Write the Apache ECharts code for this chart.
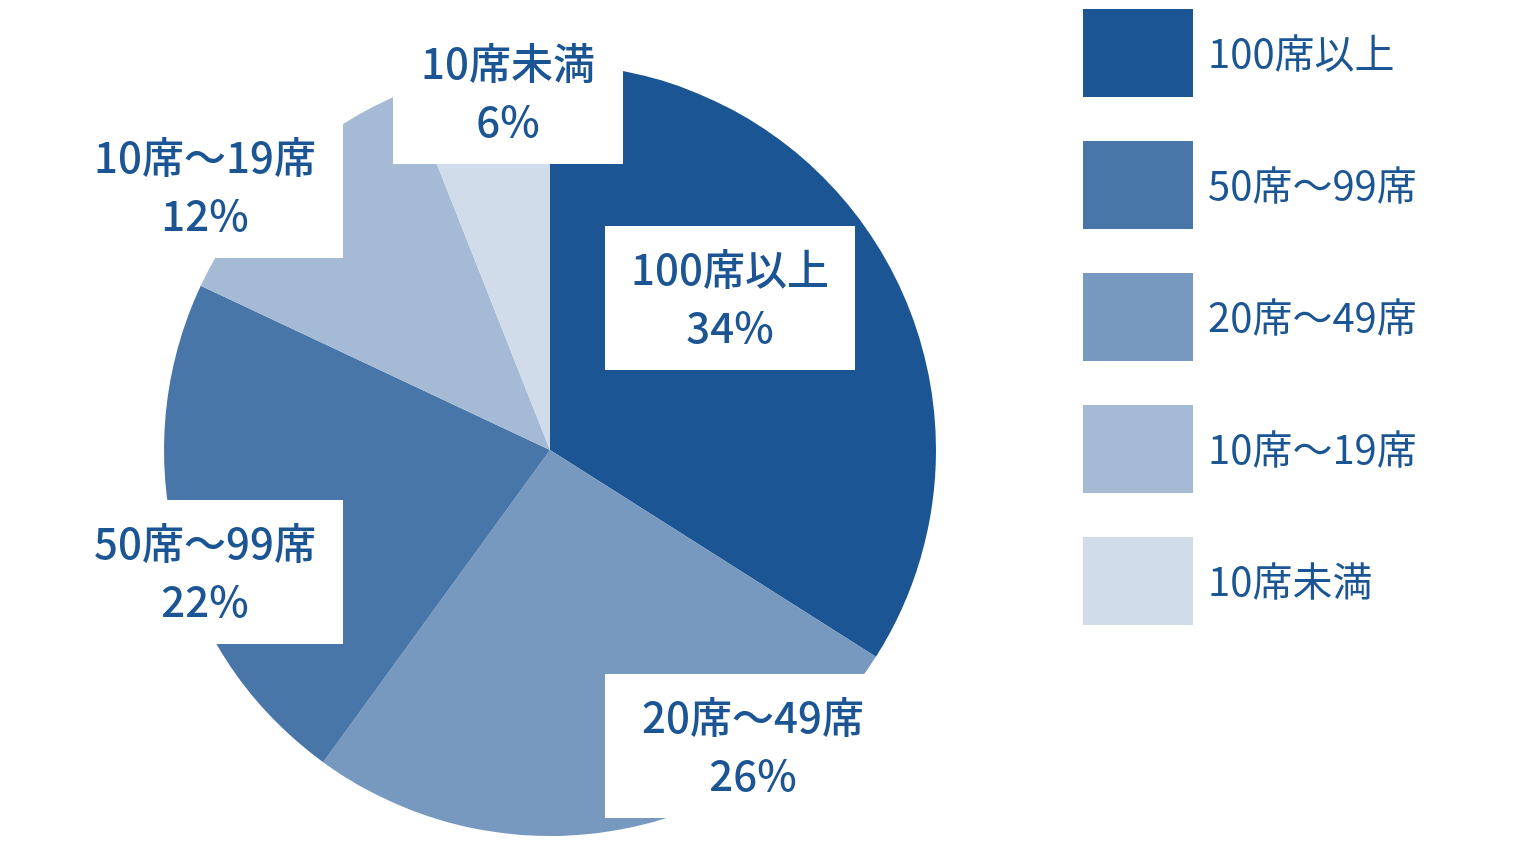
<!DOCTYPE html>
<html>
<head>
<meta charset="utf-8">
<script src="https://cdn.jsdelivr.net/npm/echarts@6/dist/echarts.min.js"></script>
<style>
html, body { margin: 0; padding: 0; background: #fff; }
#main { width: 1530px; height: 849px; }
</style>
</head>
<body>
<div id="main"></div>
<script>
// 座席数の構成比（%）
var categories = ['100席以上', '20席～49席', '50席～99席', '10席～19席', '10席未満'];
var shares = [34, 26, 22, 12, 6];
var legendOrder = ['100席以上', '50席～99席', '20席～49席', '10席～19席', '10席未満'];

var colors = ['#1c5593', '#7799bf', '#4876a9', '#a5bad4', '#d0dcea'];
var textColor = '#1c5593';

// ラベル枠の中心と幅 [x, y, 幅]
var labelSpots = [
	[730, 298, 210],
	[753, 746, 256],
	[205, 572, 236],
	[205, 186, 236],
	[508, 92, 190]
];

var chart = echarts.init(document.getElementById('main'));

var option = {
	animation: false,
	color: colors,
	legend: {
		orient: 'vertical',
		left: 1078,
		top: 4,
		itemWidth: 110,
		itemHeight: 88,
		itemGap: 44,
		icon: 'rect',
		selectedMode: false,
		data: legendOrder,
		textStyle: {
			fontFamily: 'Noto Sans CJK JP',
			fontSize: 40,
			color: textColor,
			padding: [0, 0, 0, 10]
		}
	},
	series: [{
		name: '座席数',
		type: 'pie',
		center: [550, 450],
		radius: [0, 386],
		startAngle: 90,
		clockwise: true,
		silent: true,
		itemStyle: {
			borderWidth: 0
		},
		label: {
			show: true,
			position: 'inside',
			formatter: '{b}\n{d}%',
			fontFamily: 'Noto Sans CJK JP',
			fontSize: 42,
			fontWeight: 500,
			lineHeight: 58,
			align: 'center',
			color: textColor,
			backgroundColor: '#fff',
			padding: [14, 20]
		},
		labelLine: {
			show: false
		},
		labelLayout: function (params) {
			var s = labelSpots[params.dataIndex];
			return {
				x: s[0],
				y: s[1],
				width: s[2],
				align: 'center',
				verticalAlign: 'middle'
			};
		},
		data: categories.map(function (name, i) {
			return { name: name, value: shares[i] };
		})
	}]
};

chart.setOption(option);
</script>
</body>
</html>
